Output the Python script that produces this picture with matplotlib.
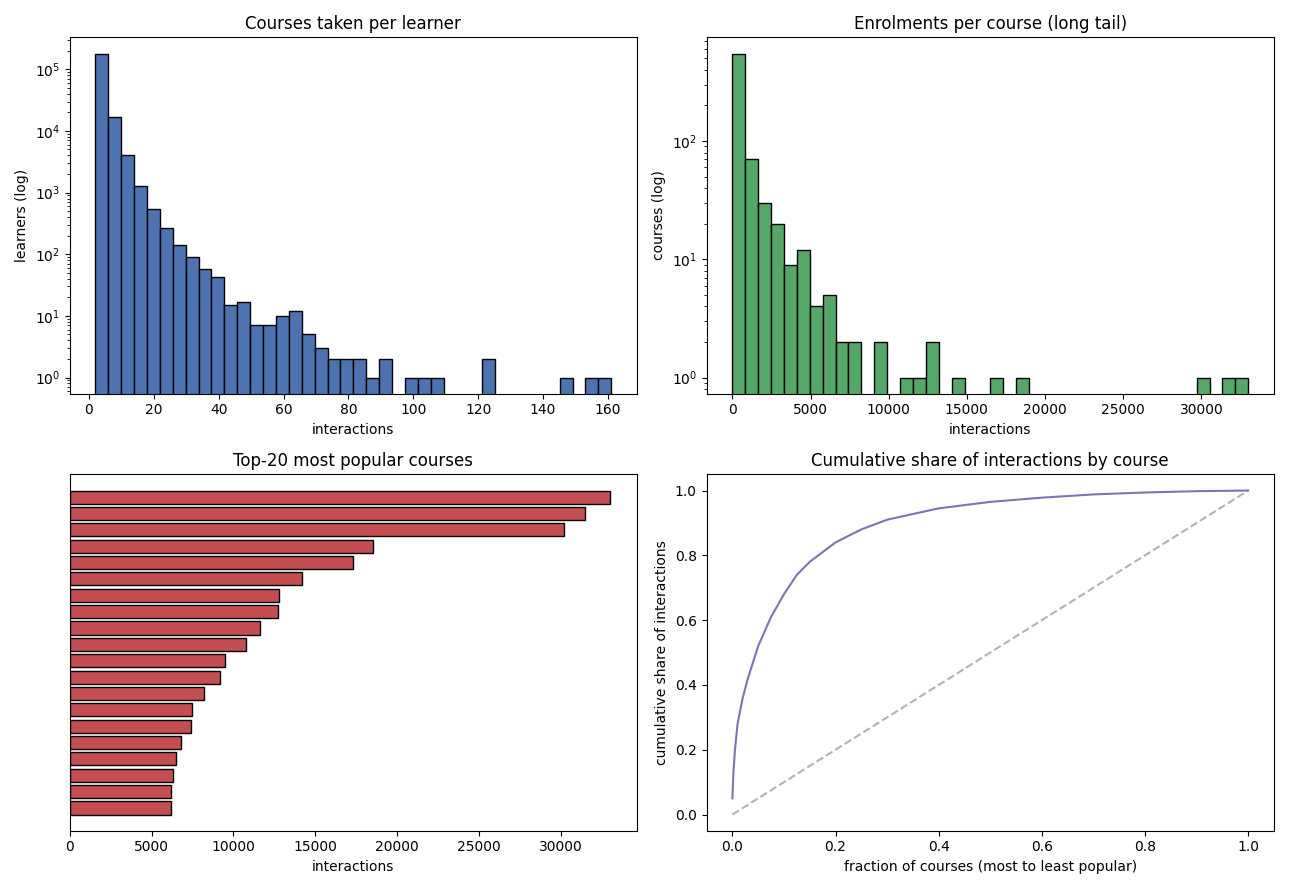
import matplotlib
matplotlib.use("Agg")
import matplotlib.pyplot as plt
import numpy as np

# Courses taken per learner (40 bins from 2 to 161)
LEARNER_EDGES = np.linspace(2, 161, 41)
LEARNER_COUNTS = [180000, 17000, 4000, 1300, 550, 270, 140, 90, 58, 43,
                  15, 17, 7, 7, 10, 12, 5, 3, 2, 2,
                  2, 1, 2, 0, 1, 1, 1, 0, 0, 0,
                  2, 0, 0, 0, 0, 0, 1, 0, 1, 1]

# Enrolments per course (40 bins from 0 to 33000)
COURSE_EDGES = np.linspace(0, 33000, 41)
COURSE_COUNTS = [550, 70, 30, 20, 9, 12, 4, 5, 2, 2,
                 0, 2, 0, 1, 1, 2, 0, 1, 0, 0,
                 1, 0, 1, 0, 0, 0, 0, 0, 0, 0,
                 0, 0, 0, 0, 0, 0, 1, 0, 1, 1]

# Top-20 courses (most popular first)
TOP20 = [33000, 31500, 30200, 18500, 17300, 14200, 12800, 12700, 11600, 10800,
         9500, 9200, 8200, 7500, 7400, 6800, 6500, 6300, 6200, 6200]

# Cumulative share curve
CUM_X = [0.0, 0.002, 0.005, 0.01, 0.02, 0.03, 0.04, 0.05, 0.075, 0.1, 0.125, 0.15,
         0.2, 0.25, 0.3, 0.4, 0.5, 0.6, 0.7, 0.8, 0.9, 1.0]
CUM_Y = [0.05, 0.13, 0.2, 0.28, 0.36, 0.42, 0.47, 0.52, 0.61, 0.68, 0.74, 0.78,
         0.84, 0.88, 0.91, 0.945, 0.965, 0.978, 0.988, 0.994, 0.998, 1.0]


def hist_from_counts(ax, edges, counts, color):
    centers = (edges[:-1] + edges[1:]) / 2
    ax.hist(centers, bins=edges, weights=counts, color=color, edgecolor="black")
    ax.set_yscale("log")


fig, axes = plt.subplots(2, 2, figsize=(12.89, 8.89))
ax1, ax2, ax3, ax4 = axes.flatten()

hist_from_counts(ax1, LEARNER_EDGES, LEARNER_COUNTS, "#4c72b0")
ax1.set_title("Courses taken per learner")
ax1.set_xlabel("interactions")
ax1.set_ylabel("learners (log)")

hist_from_counts(ax2, COURSE_EDGES, COURSE_COUNTS, "#55a868")
ax2.set_title("Enrolments per course (long tail)")
ax2.set_xlabel("interactions")
ax2.set_ylabel("courses (log)")

ypos = np.arange(len(TOP20))
ax3.barh(ypos, TOP20, color="#c44e52", edgecolor="black")
ax3.invert_yaxis()
ax3.set_yticks([])
ax3.set_title("Top-20 most popular courses")
ax3.set_xlabel("interactions")

ax4.plot(CUM_X, CUM_Y, color="#8172b3")
ax4.plot([0, 1], [0, 1], linestyle="--", color="grey", alpha=0.6)
ax4.set_title("Cumulative share of interactions by course")
ax4.set_xlabel("fraction of courses (most to least popular)")
ax4.set_ylabel("cumulative share of interactions")

fig.tight_layout()
fig.savefig("out.png", dpi=100)
